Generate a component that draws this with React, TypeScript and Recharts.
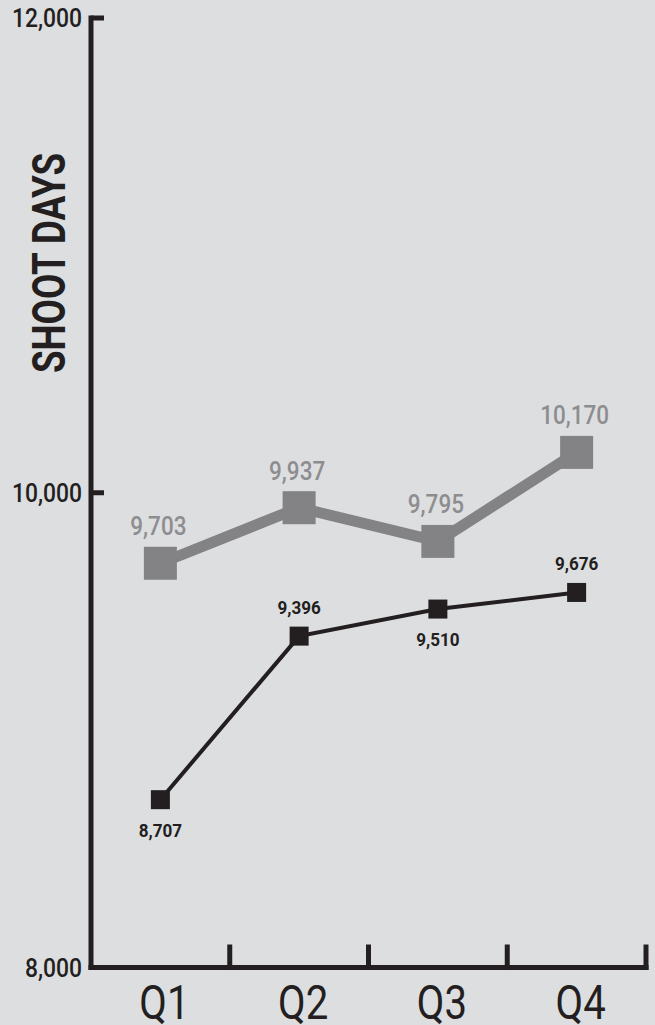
import { LineChart, Line, XAxis, YAxis, LabelList } from "recharts";

const quarters = ["Q1", "Q2", "Q3", "Q4"];
const grayDays = [9703, 9937, 9795, 10170];
const grayLabels = ["9,703", "9,937", "9,795", "10,170"];
// Q4 marker is drawn near 9,580 in the source, though it is labelled 9,676
const blackDays = [8707, 9396, 9510, 9580];
const blackLabels = ["8,707", "9,396", "9,510", "9,676"];
const yTicks = [8000, 10000, 12000];
// black labels that sit under their marker
const blackBelow = [0, 2];

const data = quarters.map((q, i) => ({ q, gray: grayDays[i], black: blackDays[i] }));

const BG = "#dddee0";
const INK = "#231f20";
const GRAY = "#838386";
const GRAY_TEXT = "#8d8d90";
const FONT = "Roboto, 'Liberation Sans', sans-serif";

const fmt = (n: number) => Number(n).toLocaleString("en-US");

// condensed look: squeeze the text horizontally around its anchor
const Narrow = ({ x, y, sx, children, ...rest }: any) => (
  <text transform={`translate(${x},${y}) scale(${sx},1)`} x={0} y={0} fontFamily={FONT} {...rest}>
    {children}
  </text>
);

const squareDot = (size: number, fill: string) => (p: any) => {
  if (p.cx == null || p.cy == null) return <g key={p.index} />;
  return <rect key={p.index} x={p.cx - size / 2} y={p.cy - size / 2} width={size} height={size} fill={fill} />;
};

const grayLabel = (p: any) => (
  <Narrow x={p.x - 2} y={p.y - 28} sx={0.9} textAnchor="middle" fill={GRAY_TEXT} fontSize={25} fontWeight={500}>
    {grayLabels[p.index]}
  </Narrow>
);

const blackLabel = (p: any) => {
  const below = blackBelow.includes(p.index);
  return (
    <Narrow x={p.x} y={below ? p.y + 37 : p.y - 22} sx={0.95} textAnchor="middle" fill={INK} fontSize={18} fontWeight="bold">
      {blackLabels[p.index]}
    </Narrow>
  );
};

const QTick = (p: any) => {
  const { x, y, payload } = p;
  const edge = x + (payload?.offset ?? 69.4);
  return (
    <g>
      <line x1={edge} x2={edge} y1={y - 23} y2={y + 2.5} stroke={INK} strokeWidth={5} />
      <Narrow x={x + 4} y={y + 51} sx={0.82} textAnchor="middle" fill={INK} fontSize={49}>
        {payload.value}
      </Narrow>
    </g>
  );
};

const DaysTick = (p: any) => {
  const { x, y, payload } = p;
  return (
    <g>
      {payload.value !== 8000 && <line x1={x + 8} x2={x + 21} y1={y} y2={y} stroke={INK} strokeWidth={5} />}
      <Narrow x={x - 1} y={y + 9} sx={0.88} textAnchor="end" fill={INK} fontSize={26} fontWeight={500}>
        {fmt(payload.value)}
      </Narrow>
    </g>
  );
};

export default function App() {
  return (
    <div style={{ position: "absolute", left: 0, top: 0, width: 655, height: 1025, background: BG }}>
      <LineChart width={655} height={1025} data={data} margin={{ top: 18, right: 9, bottom: 0, left: 0 }}>
        <XAxis
          dataKey="q"
          scale="band"
          height={57.5}
          tickSize={0}
          tickMargin={0}
          tickLine={false}
          axisLine={{ stroke: INK, strokeWidth: 5, strokeLinecap: "square" }}
          tick={QTick}
          interval={0}
        />
        <YAxis
          width={91}
          domain={[8000, 12000]}
          ticks={yTicks}
          interval={0}
          tickSize={0}
          tickMargin={8}
          tickLine={false}
          axisLine={{ stroke: INK, strokeWidth: 5, strokeLinecap: "square" }}
          tick={DaysTick}
        />
        <Line
          dataKey="gray"
          stroke={GRAY}
          strokeWidth={11}
          dot={squareDot(33, GRAY)}
          activeDot={false}
          isAnimationActive={false}
        >
          <LabelList dataKey="gray" content={grayLabel} />
        </Line>
        <Line
          dataKey="black"
          stroke={INK}
          strokeWidth={4}
          dot={squareDot(19, INK)}
          activeDot={false}
          isAnimationActive={false}
        >
          <LabelList dataKey="black" content={blackLabel} />
        </Line>
        <g transform="translate(65,263) rotate(-90)">
          <Narrow x={0} y={0} sx={0.8} textAnchor="middle" fill={INK} fontSize={46} fontWeight="bold">
            SHOOT DAYS
          </Narrow>
        </g>
      </LineChart>
    </div>
  );
}
